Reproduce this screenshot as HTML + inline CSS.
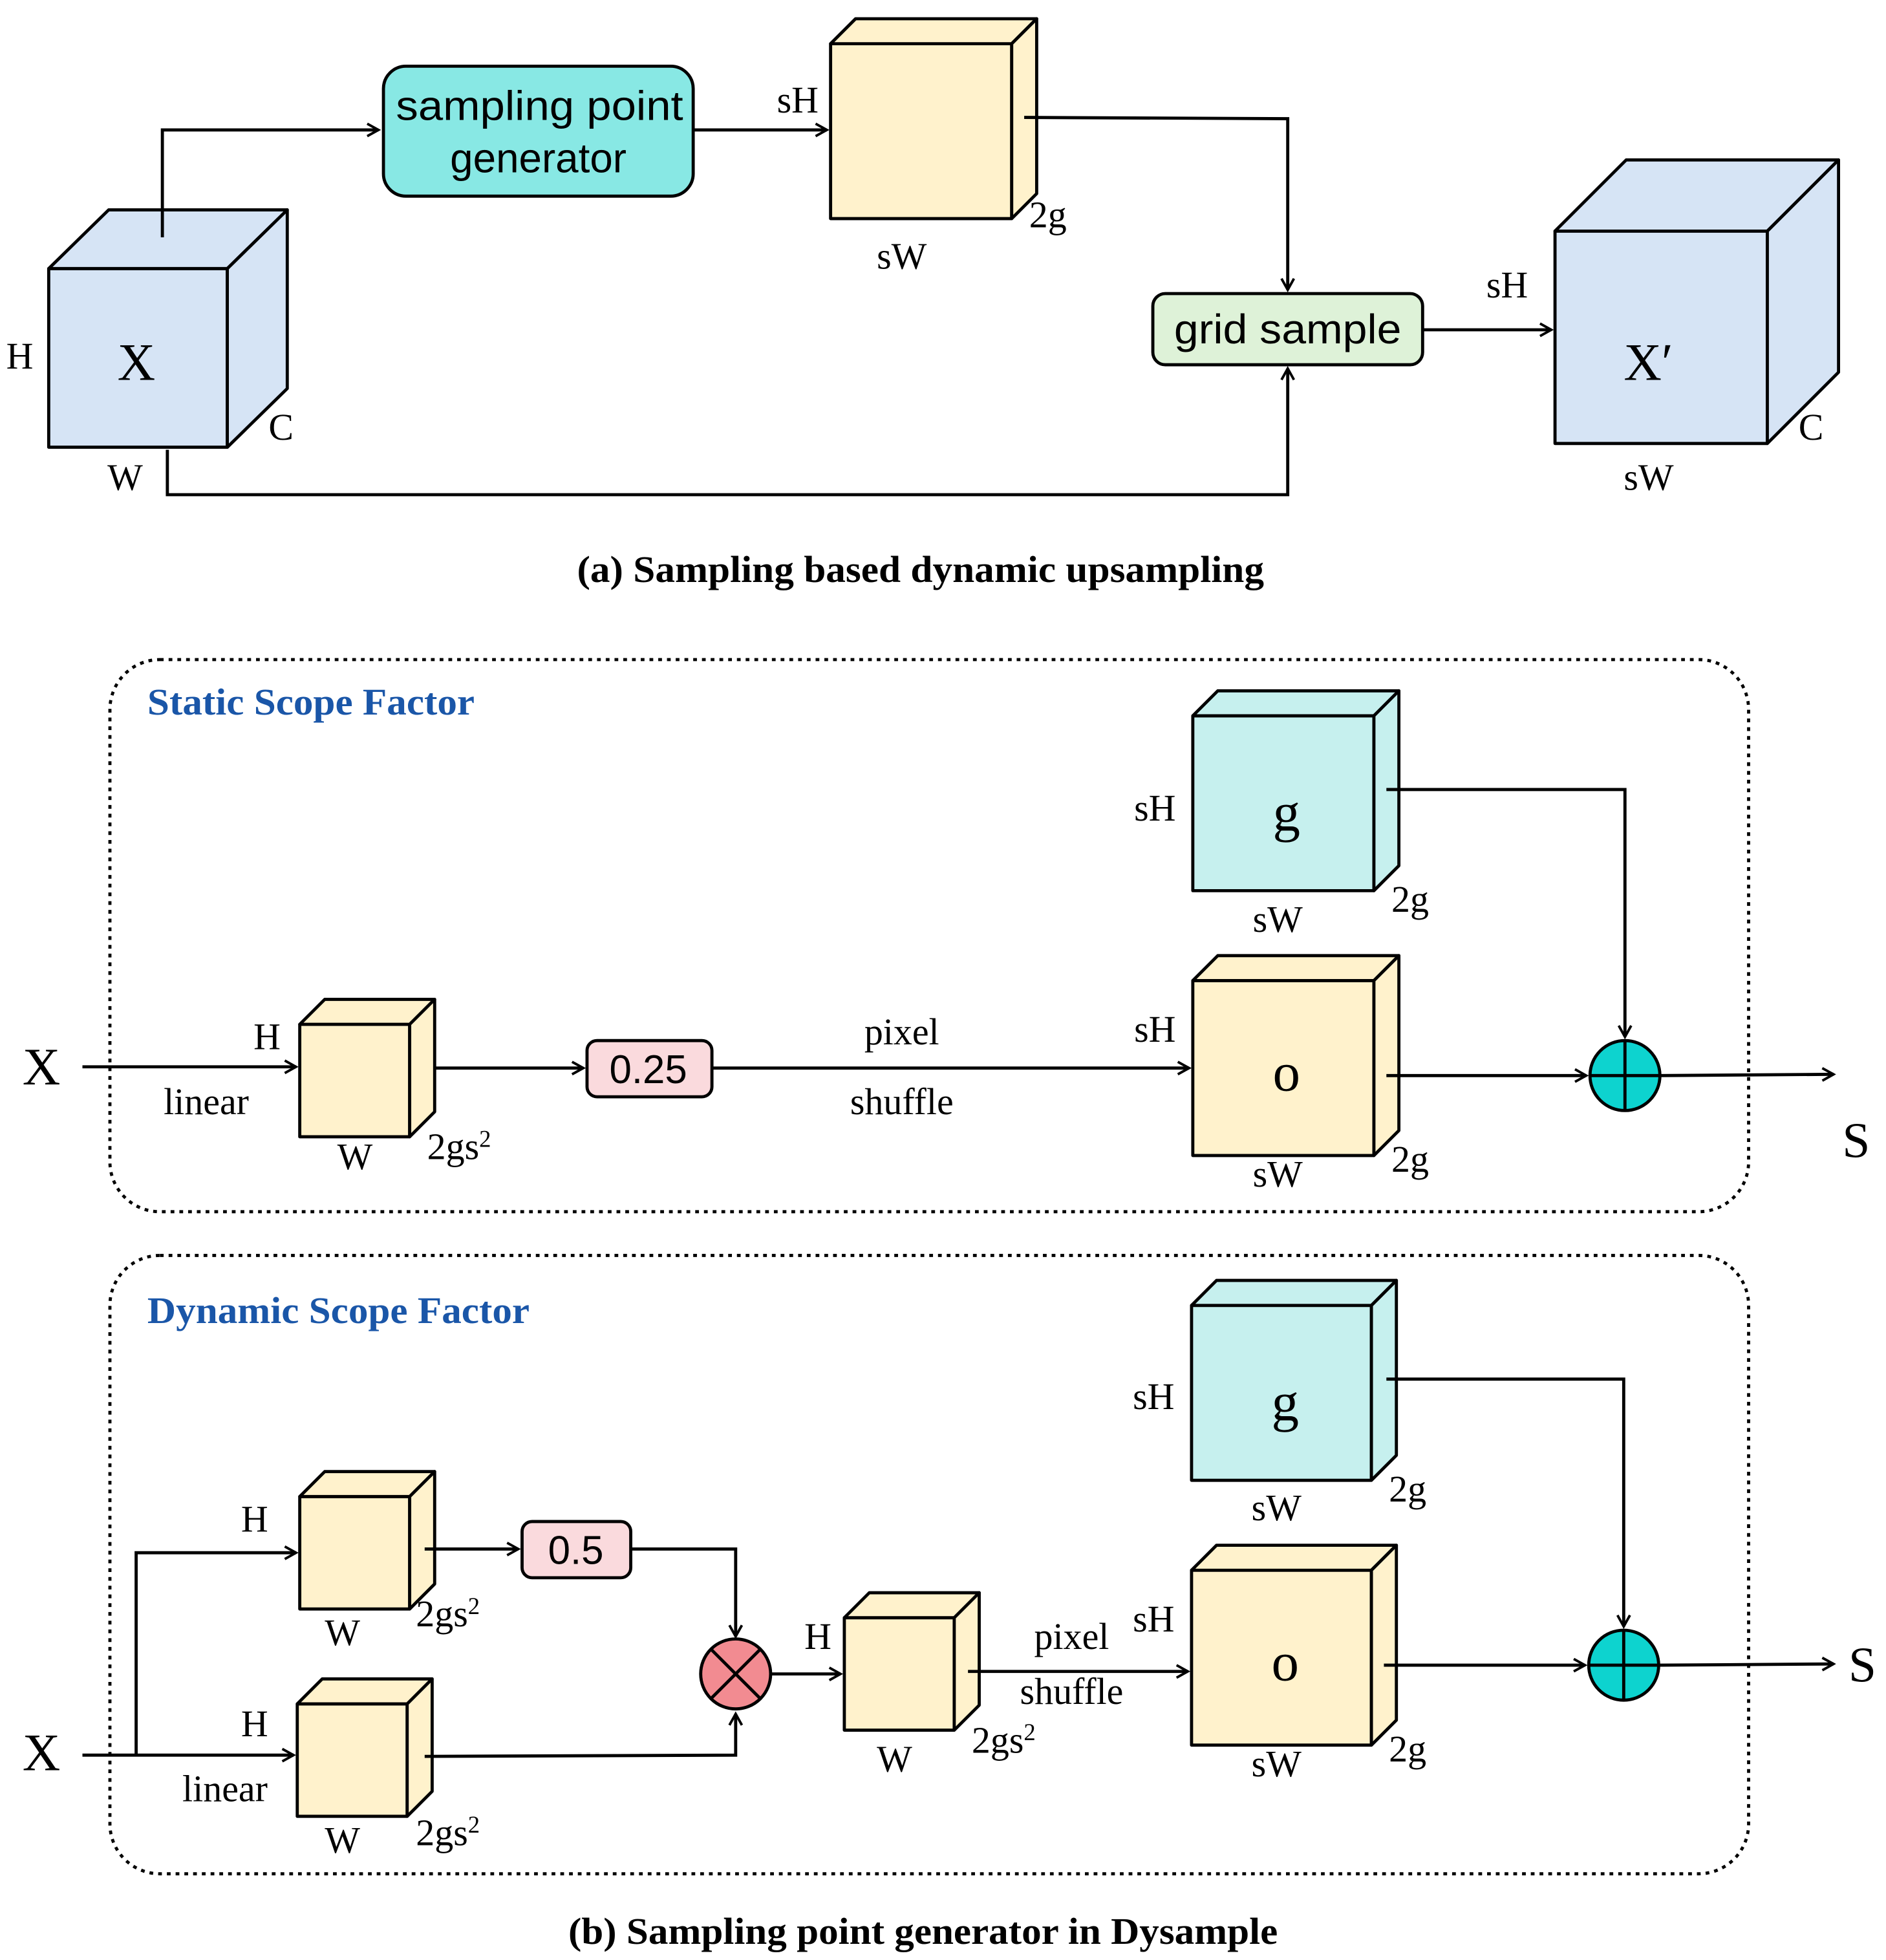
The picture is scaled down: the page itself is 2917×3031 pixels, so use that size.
<!DOCTYPE html>
<html><head><meta charset="utf-8"><style>html,body{margin:0;padding:0;background:#fff}svg{display:block}</style></head><body>
<svg width="2917" height="3031" viewBox="0 0 1510 1569" xmlns="http://www.w3.org/2000/svg" font-family="Liberation Serif, serif">
<defs><marker id="a" markerWidth="12" markerHeight="12" refX="10" refY="6" orient="auto" markerUnits="userSpaceOnUse"><path d="M1,1 L10,6 L1,11" fill="none" stroke="#000" stroke-width="2"/></marker></defs>
<g stroke="#000" stroke-width="2.5" stroke-linejoin="round">
<rect x="39" y="215" width="143" height="143" fill="#d6e4f5"/>
<polygon points="39,215 87,168 230,168 182,215" fill="#d6e4f5"/>
<polygon points="182,215 230,168 230,311 182,358" fill="#d6e4f5"/>
<rect x="665" y="35" width="145" height="140" fill="#fff2cc"/>
<polygon points="665,35 685,15 830,15 810,35" fill="#fff2cc"/>
<polygon points="810,35 830,15 830,155 810,175" fill="#fff2cc"/>
<rect x="1245" y="185" width="170" height="170" fill="#d6e4f5"/>
<polygon points="1245,185 1302,128 1472,128 1415,185" fill="#d6e4f5"/>
<polygon points="1415,185 1472,128 1472,298 1415,355" fill="#d6e4f5"/>
<rect x="307" y="53" width="248" height="104" rx="18" fill="#88e8e4"/>
<rect x="923" y="235" width="216" height="57" rx="10" fill="#def2d8"/>
</g>
<g stroke="#000" stroke-width="2.5" fill="none">
<polyline points="130,190 130,104 303,104" marker-end="url(#a)"/>
<polyline points="555,104 662,104" marker-end="url(#a)"/>
<polyline points="820,94 1031,95 1031,232" marker-end="url(#a)"/>
<polyline points="134,360 134,396 1031,396 1031,295" marker-end="url(#a)"/>
<polyline points="1139,264 1242,264" marker-end="url(#a)"/>
</g>
<g font-size="30" fill="#000">
<text x="5" y="295">H</text><text x="86" y="392">W</text><text x="215" y="352">C</text>
<text x="94" y="304" font-size="42">X</text>
<text x="622" y="90">sH</text><text x="824" y="182">2g</text><text x="702" y="215">sW</text>
<text x="1190" y="238">sH</text><text x="1300" y="392">sW</text><text x="1440" y="352">C</text>
<text x="1300" y="304" font-size="42">X′</text>
</g>
<g font-family="Liberation Sans, sans-serif" font-size="33">
<text x="317" y="96" textLength="230" lengthAdjust="spacingAndGlyphs">sampling point</text><text x="431" y="138" text-anchor="middle">generator</text>
<text x="940" y="275" textLength="182" lengthAdjust="spacingAndGlyphs">grid sample</text>
</g>
<text x="462" y="466" font-size="30" font-weight="bold" textLength="550" lengthAdjust="spacingAndGlyphs">(a) Sampling based dynamic upsampling</text>

<rect x="88" y="528" width="1312" height="442" rx="40" fill="none" stroke="#000" stroke-width="2.5" stroke-dasharray="3,4"/>
<text x="118" y="572" font-size="30" font-weight="bold" fill="#1a56a8" textLength="262" lengthAdjust="spacingAndGlyphs">Static Scope Factor</text>
<g stroke="#000" stroke-width="2.5" stroke-linejoin="round">
<rect x="955" y="573" width="145" height="140" fill="#c6f0ee"/>
<polygon points="955,573 975,553 1120,553 1100,573" fill="#c6f0ee"/>
<polygon points="1100,573 1120,553 1120,693 1100,713" fill="#c6f0ee"/>
<rect x="955" y="785" width="145" height="140" fill="#fff2cc"/>
<polygon points="955,785 975,765 1120,765 1100,785" fill="#fff2cc"/>
<polygon points="1100,785 1120,765 1120,905 1100,925" fill="#fff2cc"/>
<rect x="240" y="820" width="88" height="90" fill="#fff2cc"/>
<polygon points="240,820 260,800 348,800 328,820" fill="#fff2cc"/>
<polygon points="328,820 348,800 348,890 328,910" fill="#fff2cc"/>
<rect x="470" y="833" width="100" height="45" rx="8" fill="#fadadd"/>
<circle cx="1301" cy="861" r="28" fill="#0dd3cf"/>
<line x1="1273" y1="861" x2="1329" y2="861"/><line x1="1301" y1="833" x2="1301" y2="889"/>
</g>
<g stroke="#000" stroke-width="2.5" fill="none">
<polyline points="66,854 237,854" marker-end="url(#a)"/>
<polyline points="348,855 467,855" marker-end="url(#a)"/>
<polyline points="570,855 952,855" marker-end="url(#a)"/>
<polyline points="1110,632 1301,632 1301,830" marker-end="url(#a)"/>
<polyline points="1110,861 1270,861" marker-end="url(#a)"/>
<polyline points="1329,861 1468,860" marker-end="url(#a)"/>
</g>
<g font-size="30">
<text x="18" y="868" font-size="42">X</text><text x="1475" y="926" font-size="40">S</text>
<text x="203" y="840">H</text><text x="131" y="892">linear</text><text x="270" y="936">W</text><text x="342" y="928">2gs<tspan font-size="19" dy="-10">2</tspan></text>
<text x="722" y="836" text-anchor="middle">pixel</text><text x="722" y="892" text-anchor="middle">shuffle</text>
<text x="908" y="657">sH</text><text x="1003" y="746">sW</text><text x="1114" y="730">2g</text>
<text x="908" y="834">sH</text><text x="1003" y="950">sW</text><text x="1114" y="938">2g</text>
<text x="1030" y="665" font-size="44" text-anchor="middle">g</text><text x="1030" y="873" font-size="44" text-anchor="middle">o</text>
</g>
<text x="519" y="867" font-family="Liberation Sans, sans-serif" font-size="32" text-anchor="middle">0.25</text>

<rect x="88" y="1005" width="1312" height="495" rx="40" fill="none" stroke="#000" stroke-width="2.5" stroke-dasharray="3,4"/>
<text x="118" y="1059" font-size="30" font-weight="bold" fill="#1a56a8" textLength="306" lengthAdjust="spacingAndGlyphs">Dynamic Scope Factor</text>
<g stroke="#000" stroke-width="2.5" stroke-linejoin="round">
<rect x="954" y="1045" width="144" height="140" fill="#c6f0ee"/>
<polygon points="954,1045 974,1025 1118,1025 1098,1045" fill="#c6f0ee"/>
<polygon points="1098,1045 1118,1025 1118,1165 1098,1185" fill="#c6f0ee"/>
<rect x="954" y="1257" width="144" height="140" fill="#fff2cc"/>
<polygon points="954,1257 974,1237 1118,1237 1098,1257" fill="#fff2cc"/>
<polygon points="1098,1257 1118,1237 1118,1377 1098,1397" fill="#fff2cc"/>
<rect x="240" y="1198" width="88" height="90" fill="#fff2cc"/>
<polygon points="240,1198 260,1178 348,1178 328,1198" fill="#fff2cc"/>
<polygon points="328,1198 348,1178 348,1268 328,1288" fill="#fff2cc"/>
<rect x="238" y="1364" width="88" height="90" fill="#fff2cc"/>
<polygon points="238,1364 258,1344 346,1344 326,1364" fill="#fff2cc"/>
<polygon points="326,1364 346,1344 346,1434 326,1454" fill="#fff2cc"/>
<rect x="676" y="1295" width="88" height="90" fill="#fff2cc"/>
<polygon points="676,1295 696,1275 784,1275 764,1295" fill="#fff2cc"/>
<polygon points="764,1295 784,1275 784,1365 764,1385" fill="#fff2cc"/>
<rect x="418" y="1218" width="87" height="45" rx="8" fill="#fadadd"/>
<circle cx="589" cy="1340" r="28" fill="#f28b91"/>
<line x1="569" y1="1320" x2="609" y2="1360"/><line x1="609" y1="1320" x2="569" y2="1360"/>
<circle cx="1300" cy="1333" r="28" fill="#0dd3cf"/>
<line x1="1272" y1="1333" x2="1328" y2="1333"/><line x1="1300" y1="1305" x2="1300" y2="1361"/>
</g>
<g stroke="#000" stroke-width="2.5" fill="none">
<polyline points="66,1405 235,1405" marker-end="url(#a)"/>
<polyline points="109,1405 109,1243 237,1243" marker-end="url(#a)"/>
<polyline points="340,1240 415,1240" marker-end="url(#a)"/>
<polyline points="505,1240 589,1240 589,1310" marker-end="url(#a)"/>
<polyline points="340,1406 589,1405 589,1372" marker-end="url(#a)"/>
<polyline points="617,1340 673,1340" marker-end="url(#a)"/>
<polyline points="775,1338 951,1338" marker-end="url(#a)"/>
<polyline points="1110,1104 1300,1104 1300,1302" marker-end="url(#a)"/>
<polyline points="1108,1333 1269,1333" marker-end="url(#a)"/>
<polyline points="1328,1333 1468,1332" marker-end="url(#a)"/>
</g>
<g font-size="30">
<text x="18" y="1417" font-size="42">X</text><text x="1480" y="1346" font-size="40">S</text>
<text x="193" y="1226">H</text><text x="260" y="1317">W</text><text x="333" y="1302">2gs<tspan font-size="19" dy="-10">2</tspan></text>
<text x="193" y="1390">H</text><text x="146" y="1442">linear</text><text x="260" y="1483">W</text><text x="333" y="1477">2gs<tspan font-size="19" dy="-10">2</tspan></text>
<text x="644" y="1320">H</text><text x="702" y="1418">W</text><text x="778" y="1403">2gs<tspan font-size="19" dy="-10">2</tspan></text>
<text x="858" y="1320" text-anchor="middle">pixel</text><text x="858" y="1364" text-anchor="middle">shuffle</text>
<text x="907" y="1128">sH</text><text x="1002" y="1217">sW</text><text x="1112" y="1202">2g</text>
<text x="907" y="1306">sH</text><text x="1002" y="1422">sW</text><text x="1112" y="1410">2g</text>
<text x="1029" y="1137" font-size="44" text-anchor="middle">g</text><text x="1029" y="1345" font-size="44" text-anchor="middle">o</text>
</g>
<text x="461" y="1252" font-family="Liberation Sans, sans-serif" font-size="32" text-anchor="middle">0.5</text>
<text x="455" y="1556" font-size="30" font-weight="bold" textLength="568" lengthAdjust="spacingAndGlyphs">(b) Sampling point generator in Dysample</text>
</svg>
</body></html>
